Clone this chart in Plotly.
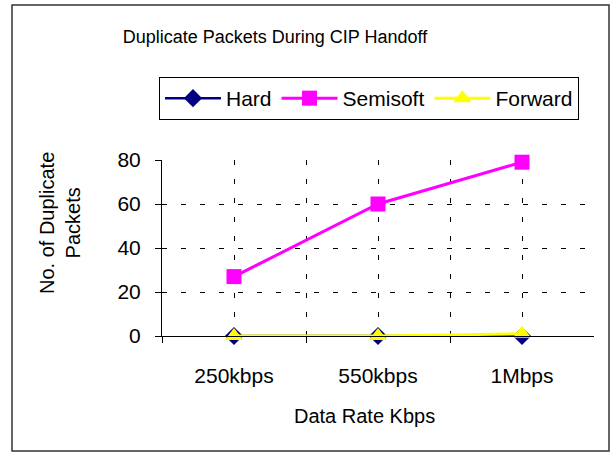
import plotly.graph_objects as go

categories = ["250kbps", "550kbps", "1Mbps"]
hard = [0, 0, 0]
semisoft = [27, 60, 79]
forward = [0, 0, 1]

W, H = 612, 456
L, R, T, B = 162, 18, 160, 120
PW, PH = W - L - R, H - T - B

def px(x):
    return (x - L) / PW

def py(y):
    return (H - B - y) / PH

xpos = list(range(len(categories)))
FONT = "Liberation Sans, Arial, sans-serif"

fig = go.Figure()
fig.add_trace(go.Scatter(x=xpos, y=hard, name="Hard", mode="lines+markers",
                         line=dict(color="#000080", width=2.5),
                         marker=dict(symbol="diamond", size=14, color="#000080"),
                         cliponaxis=False))
fig.add_trace(go.Scatter(x=xpos, y=semisoft, name="Semisoft", mode="lines+markers",
                         line=dict(color="#FF00FF", width=3),
                         marker=dict(symbol="square", size=15, color="#FF00FF"),
                         cliponaxis=False))
fig.add_trace(go.Scatter(x=xpos, y=forward, name="Forward", mode="lines+markers",
                         line=dict(color="#FFFF00", width=3),
                         marker=dict(symbol="triangle-up", size=16, color="#FFFF00"),
                         cliponaxis=False))

grid_dash = "5px,14px"
fig.update_layout(
    width=W, height=H,
    margin=dict(l=L, r=R, t=T, b=B),
    paper_bgcolor="white", plot_bgcolor="white",
    font=dict(family=FONT, color="black", size=20),
    title=dict(text="Duplicate Packets During CIP Handoff", x=275 / W, xref="container",
               xanchor="center", y=1 - 37 / H, yref="container", yanchor="middle",
               font=dict(size=18)),
    legend=dict(orientation="h", x=px(159), xanchor="left", y=py(77), yanchor="top",
                bordercolor="black", borderwidth=1, font=dict(size=21),
                bgcolor="white", itemwidth=56),
    xaxis=dict(range=[-0.5, 2.5], tickvals=xpos, ticktext=categories, ticks="",
               showgrid=True, gridcolor="black", gridwidth=1, griddash=grid_dash,
               showline=True, linecolor="black", linewidth=1, zeroline=False,
               tickfont=dict(size=21), ticklabelstandoff=21,
               minor=dict(tickvals=[-0.5, 0.5, 1.5], ticks="outside", ticklen=6,
                          tickcolor="black", showgrid=True, gridcolor="black",
                          griddash=grid_dash, gridwidth=1)),
    yaxis=dict(range=[0, 80], tickvals=[0, 20, 40, 60, 80], ticks="outside", ticklen=6,
               tickcolor="black", showgrid=True, gridcolor="black", gridwidth=1,
               griddash=grid_dash, showline=True, linecolor="black", linewidth=1,
               zeroline=False, tickfont=dict(size=21), ticklabelstandoff=10),
    annotations=[
        dict(text="Data Rate Kbps", x=px(364), y=py(416), xref="paper", yref="paper",
             xanchor="center", yanchor="middle", showarrow=False, font=dict(size=20)),
        dict(text="No. of Duplicate<br>Packets", x=px(60), y=py(223), xref="paper",
             yref="paper", xanchor="center", yanchor="middle", showarrow=False,
             textangle=-90, font=dict(size=20)),
    ],
    shapes=[
        dict(type="rect", xref="paper", yref="paper", x0=px(12), x1=px(609),
             y0=py(451), y1=py(5), line=dict(color="#333333", width=1.5), layer="below"),
    ],
)

fig.write_html("out.html", config={"displayModeBar": False},
               post_script="document.body.style.margin='0';")
